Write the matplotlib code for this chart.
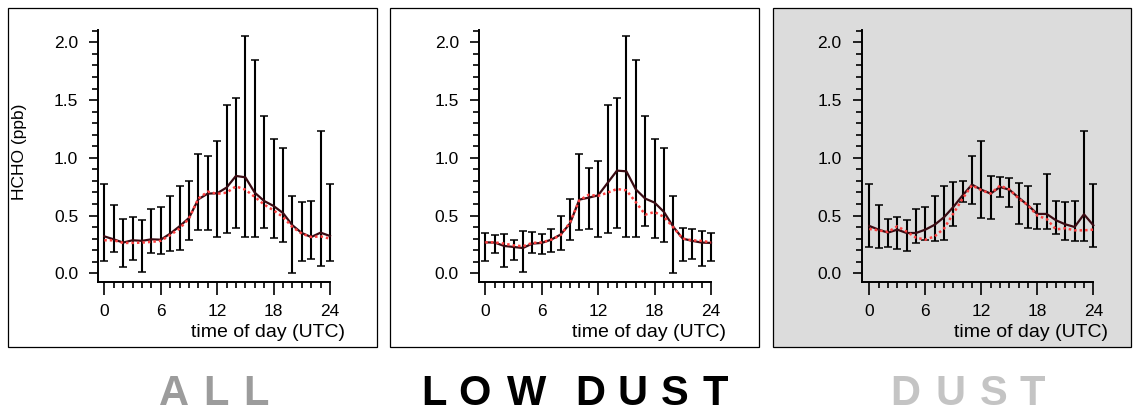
import matplotlib
matplotlib.use("Agg")
import matplotlib.pyplot as plt
from matplotlib.patches import Rectangle
from matplotlib.ticker import MultipleLocator, FixedLocator, FormatStrFormatter

plt.rcParams["font.family"] = ["Liberation Sans", "DejaVu Sans"]

# Hourly HCHO statistics (ppb), hours 0..24 UTC
hours = list(range(25))

all_mean = [0.32, 0.294, 0.266, 0.286, 0.281, 0.294, 0.291, 0.343, 0.407, 0.479, 0.641, 0.690, 0.693,
            0.742, 0.843, 0.831, 0.698, 0.626, 0.583, 0.522, 0.416, 0.349, 0.314, 0.352, 0.323]
all_median = [0.286, 0.286, 0.263, 0.263, 0.266, 0.272, 0.281, 0.33, 0.387, 0.473, 0.647, 0.707, 0.688,
              0.698, 0.753, 0.724, 0.661, 0.595, 0.545, 0.488, 0.401, 0.343, 0.314, 0.32, 0.30]
all_hi = [0.77, 0.589, 0.473, 0.488, 0.459, 0.557, 0.574, 0.672, 0.756, 0.797, 1.036, 1.013, 1.143,
          1.457, 1.521, 2.058, 1.850, 1.362, 1.163, 1.088, 0.669, 0.617, 0.626, 1.232, 0.773]
all_lo = [0.107, 0.185, 0.055, 0.113, 0.009, 0.179, 0.171, 0.193, 0.205, 0.291, 0.372, 0.378, 0.314,
          0.352, 0.396, 0.314, 0.314, 0.396, 0.309, 0.268, 0.003, 0.104, 0.124, 0.067, 0.107]

low_mean = [0.268, 0.266, 0.237, 0.228, 0.219, 0.257, 0.263, 0.291, 0.335, 0.430, 0.638, 0.655, 0.675,
            0.782, 0.889, 0.883, 0.727, 0.647, 0.612, 0.531, 0.401, 0.30, 0.281, 0.266, 0.263]
low_median = [0.268, 0.268, 0.257, 0.242, 0.234, 0.263, 0.268, 0.29, 0.33, 0.438, 0.632, 0.68, 0.670,
              0.698, 0.73, 0.718, 0.617, 0.508, 0.531, 0.488, 0.396, 0.30, 0.286, 0.281, 0.268]
low_hi = [0.349, 0.329, 0.34, 0.286, 0.37, 0.358, 0.343, 0.387, 0.494, 0.641, 1.036, 0.912, 0.972,
          1.457, 1.518, 2.058, 1.85, 1.362, 1.163, 1.088, 0.669, 0.392, 0.38, 0.366, 0.346]
low_lo = [0.107, 0.179, 0.055, 0.113, 0.009, 0.18, 0.171, 0.188, 0.205, 0.291, 0.372, 0.38, 0.314,
          0.352, 0.396, 0.314, 0.314, 0.41, 0.309, 0.268, 0.003, 0.104, 0.124, 0.067, 0.107]

dust_mean = [0.41, 0.378, 0.352, 0.378, 0.349, 0.349, 0.378, 0.42, 0.485, 0.574, 0.675, 0.768, 0.724,
             0.69, 0.747, 0.724, 0.655, 0.589, 0.514, 0.514, 0.459, 0.424, 0.401, 0.511, 0.416]
dust_median = [0.384, 0.372, 0.358, 0.407, 0.361, 0.309, 0.291, 0.32, 0.387, 0.517, 0.647, 0.762, 0.72,
               0.69, 0.759, 0.727, 0.647, 0.589, 0.50, 0.47, 0.38, 0.39, 0.372, 0.372, 0.378]
dust_hi = [0.77, 0.589, 0.473, 0.488, 0.462, 0.557, 0.574, 0.672, 0.756, 0.794, 0.797, 1.013, 1.143,
           0.846, 0.835, 0.826, 0.779, 0.756, 0.597, 0.857, 0.626, 0.617, 0.626, 1.232, 0.773]
dust_lo = [0.225, 0.222, 0.225, 0.208, 0.196, 0.263, 0.286, 0.277, 0.286, 0.413, 0.62, 0.599, 0.479,
           0.47, 0.661, 0.571, 0.424, 0.392, 0.384, 0.384, 0.338, 0.291, 0.280, 0.280, 0.225]

x_ticks = [0, 6, 12, 18, 24]
y_ticks = [0.0, 0.5, 1.0, 1.5, 2.0]
x_label = "time of day (UTC)"
y_label = "HCHO (ppb)"

W, H = 1138, 416
fig = plt.figure(figsize=(W / 100, H / 100), dpi=100)
fig.patch.set_facecolor("white")


def fx(px):
    return px / W


def fy(py):
    return 1 - py / H


MEAN_C = "#3a0a12"
MED_C = "#ff4040"

# panel layout: frame box, y-spine x, pixel of hour 0, pixel of hour 24
panels = [
    dict(frame=(8, 377), spine=98.3, x0=104.3, x24=330.0, face="white",
         mean=all_mean, med=all_median, hi=all_hi, lo=all_lo, ylabel=True),
    dict(frame=(390, 759), spine=479.0, x0=485.3, x24=711.0, face="white",
         mean=low_mean, med=low_median, hi=low_hi, lo=low_lo, ylabel=False),
    dict(frame=(773, 1131), spine=861.7, x0=869.3, x24=1093.3, face="#dcdcdc",
         mean=dust_mean, med=dust_median, hi=dust_hi, lo=dust_lo, ylabel=False),
]

FRAME_TOP, FRAME_BOT = 8, 347
Y0PX, Y2PX = 273.3, 42.3
SP_TOP, SP_BOT = 30, 281.5

for p in panels:
    l, r = p["frame"]
    fig.patches.append(Rectangle((fx(l), fy(FRAME_BOT)), (r - l) / W, (FRAME_BOT - FRAME_TOP) / H,
                                 transform=fig.transFigure, facecolor=p["face"],
                                 edgecolor="black", linewidth=0.9, zorder=-1))

    pph = (p["x24"] - p["x0"]) / 24.0
    xl = (p["spine"] - p["x0"]) / pph
    xr = 24.5
    ppu = (Y0PX - Y2PX) / 2.0
    yb = -(SP_BOT - Y0PX) / ppu
    yt_sp = (Y0PX - SP_TOP) / ppu
    yt = yt_sp + 0.05
    right_px = p["x0"] + xr * pph
    top_px = Y0PX - yt * ppu
    ax = fig.add_axes([fx(p["spine"]), fy(SP_BOT), (right_px - p["spine"]) / W, (SP_BOT - top_px) / H])
    ax.patch.set_visible(False)
    ax.set_xlim(xl, xr)
    ax.set_ylim(yb, yt)

    for s in ("top", "right"):
        ax.spines[s].set_visible(False)
    ax.spines["left"].set_bounds(yb, yt_sp)
    ax.spines["bottom"].set_bounds(xl, 24)
    for s in ("left", "bottom"):
        ax.spines[s].set_linewidth(1.4)

    yerr = [[m - lo for m, lo in zip(p["mean"], p["lo"])],
            [hi - m for m, hi in zip(p["mean"], p["hi"])]]
    ax.errorbar(hours, p["mean"], yerr=yerr, fmt="none", ecolor="black",
                elinewidth=1.5, capsize=2.6, capthick=1.1, zorder=2)
    ax.plot(hours, p["mean"], color=MEAN_C, lw=1.6, zorder=3)
    ax.plot(hours, p["med"], color=MED_C, lw=1.8, linestyle=(0, (1, 1.2)), zorder=4)

    ax.xaxis.set_major_locator(FixedLocator(x_ticks))
    ax.xaxis.set_minor_locator(MultipleLocator(1))
    ax.yaxis.set_major_locator(FixedLocator(y_ticks))
    ax.yaxis.set_minor_locator(MultipleLocator(0.1))
    ax.yaxis.set_major_formatter(FormatStrFormatter("%.1f"))
    ax.tick_params(axis="y", which="major", direction="out", length=6.5, width=1.2,
                   labelsize=12.5, pad=8)
    ax.tick_params(axis="y", which="minor", direction="out", length=4, width=1.2)
    ax.tick_params(axis="x", which="major", direction="out", length=9, width=1.2,
                   labelsize=12.5, pad=7)
    ax.tick_params(axis="x", which="minor", direction="out", length=4.5, width=1.2)

    fig.text(fx(p["x24"] + 15), fy(337), x_label, ha="right", va="baseline", fontsize=14)
    if p["ylabel"]:
        fig.text(fx(20), fy(152), y_label, rotation=90, ha="center", va="center", fontsize=12.5)

# Group captions below the panels, letter-spaced
cap_font = dict(family=["Liberation Sans", "DejaVu Sans"],
                fontweight="bold", fontsize=30, va="baseline", ha="center")
captions = [
    ("ALL", [174, 216, 256], "#9c9c9c"),
    ("LOWDUST", [434, 474, 527, 590, 633, 675, 715], "black"),
    ("DUST", [905, 951, 994, 1032], "#c4c4c4"),
]
for word, xs, col in captions:
    for ch, xp in zip(word, xs):
        fig.text(fx(xp), fy(405), ch, color=col, **cap_font)

fig.savefig("out.png", dpi=100, facecolor="white")
